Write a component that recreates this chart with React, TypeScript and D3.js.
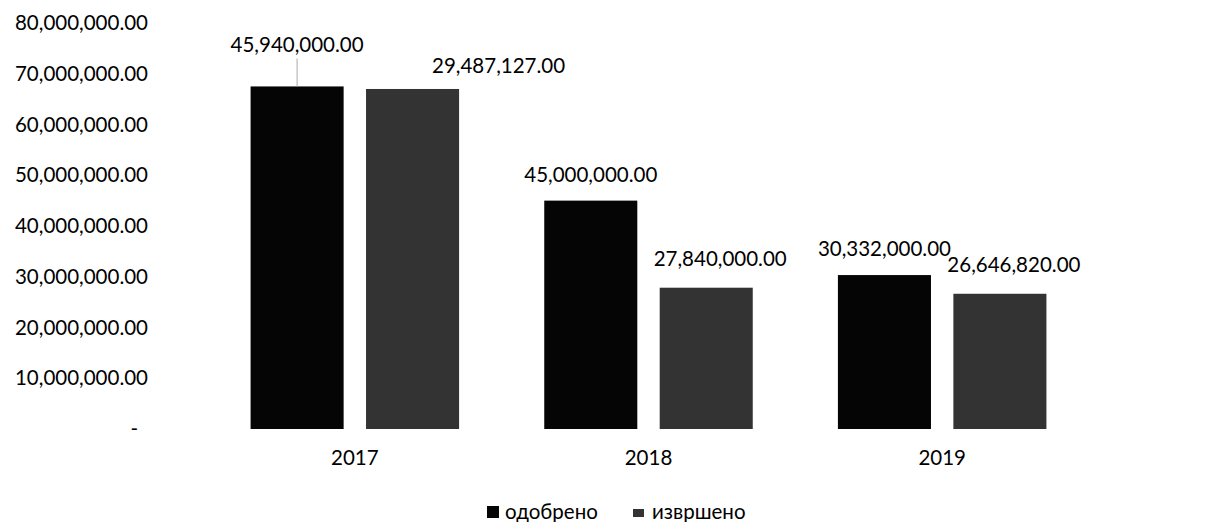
import { useRef, useEffect } from 'react';
import * as d3 from 'd3';

const years = ['2017', '2018', '2019'];
const seriesNames = ['одобрено', 'извршено'];
// bar heights as drawn in the picture
const approved = [67500000, 45000000, 30332000];
const executed = [67000000, 27840000, 26646820];
// data labels as printed on the chart
const approvedLabels = ['45,940,000.00', '45,000,000.00', '30,332,000.00'];
const executedLabels = ['29,487,127.00', '27,840,000.00', '26,646,820.00'];
const yTicks = [0, 10000000, 20000000, 30000000, 40000000, 50000000, 60000000, 70000000, 80000000];

const WIDTH = 1211;
const HEIGHT = 522;
const FONT = 'Lato, "Open Sans", sans-serif';
const FONT_SIZE = '20.5px';
const COLORS = ['#050505', '#333333'];
// hand-moved data labels in 2017 (dx, dy from default spot)
const LABEL_NUDGE: Record<string, [number, number]> = {
  '0-0': [0, -16],
  '0-1': [86, 3],
};

export default function App() {
  const svgRef = useRef<SVGSVGElement>(null);

  useEffect(() => {
    document.body.style.margin = '0';
    if (!svgRef.current) return;
    const svg = d3.select(svgRef.current);
    svg.selectAll('*').remove();

    const x = d3.scaleBand().domain(years).range([208, 1089]).paddingInner(0.29).paddingOuter(0.145);
    const xSub = d3.scaleBand().domain(seriesNames).range([0, x.bandwidth()]).paddingInner(0.194);
    const y = d3.scaleLinear().domain([0, 80000000]).range([429, 23]);

    // Y axis labels
    const yAxis = svg
      .append('g')
      .attr('transform', 'translate(148,0)')
      .call(
        d3
          .axisLeft(y)
          .tickValues(yTicks)
          .tickSize(0)
          .tickPadding(0)
          .tickFormat((d) => ((d as number) === 0 ? '-' : d3.format(',.2f')(d as number)))
      );
    yAxis.select('.domain').remove();
    yAxis
      .selectAll('text')
      .style('font-family', FONT)
      .style('font-size', FONT_SIZE)
      .style('fill', '#000')
      .attr('dx', (d) => ((d as number) === 0 ? -10 : 0));

    const rows = years.map((yr, i) => ({
      year: yr,
      values: [approved[i], executed[i]],
      labels: [approvedLabels[i], executedLabels[i]],
    }));

    const groups = svg
      .selectAll('.group')
      .data(rows)
      .enter()
      .append('g')
      .attr('class', 'group')
      .attr('transform', (d) => `translate(${x(d.year)},0)`);

    groups
      .selectAll('rect')
      .data((d) => d.values.map((v, j) => ({ v, j })))
      .enter()
      .append('rect')
      .attr('x', (d) => xSub(seriesNames[d.j])!)
      .attr('y', (d) => y(d.v))
      .attr('width', xSub.bandwidth())
      .attr('height', (d) => y(0) - y(d.v))
      .attr('fill', (d) => COLORS[d.j]);

    // data labels
    rows.forEach((row, i) => {
      row.labels.forEach((lab, j) => {
        const cx = x(row.year)! + xSub(seriesNames[j])! + xSub.bandwidth() / 2;
        const top = y(row.values[j]);
        const [dx, dy] = LABEL_NUDGE[`${i}-${j}`] || [j === 1 ? 14 : 0, j === 1 ? -3 : 0];
        const ly = top - 26 + dy;
        svg
          .append('text')
          .attr('x', cx + dx)
          .attr('y', ly)
          .attr('dy', '0.35em')
          .attr('text-anchor', 'middle')
          .style('font-family', FONT)
          .style('font-size', FONT_SIZE)
          .style('fill', '#000')
          .text(lab);
        if (dy < -10) {
          svg
            .append('line')
            .attr('x1', cx + dx)
            .attr('x2', cx + dx)
            .attr('y1', ly + 14)
            .attr('y2', top)
            .attr('stroke', '#aaa')
            .attr('stroke-width', 1);
        }
      });
    });

    // category labels
    svg
      .selectAll('.cat')
      .data(years)
      .enter()
      .append('text')
      .attr('class', 'cat')
      .attr('x', (d) => x(d)! + x.bandwidth() / 2)
      .attr('y', y(0) + 29)
      .attr('dy', '0.35em')
      .attr('text-anchor', 'middle')
      .style('font-family', FONT)
      .style('font-size', FONT_SIZE)
      .style('fill', '#000')
      .text((d) => d);

    // legend
    const legend = svg.append('g').attr('transform', 'translate(487,512)');
    const legendX = [0, 146];
    seriesNames.forEach((name, j) => {
      const item = legend.append('g').attr('transform', `translate(${legendX[j]},0)`);
      item
        .append('rect')
        .attr('x', 0)
        .attr('y', j === 0 ? -6 : -3)
        .attr('width', j === 0 ? 12 : 11)
        .attr('height', j === 0 ? 12 : 8)
        .attr('fill', COLORS[j]);
      item
        .append('text')
        .attr('x', j === 0 ? 18 : 19)
        .attr('y', 0)
        .attr('dy', '0.35em')
        .style('font-family', FONT)
        .style('font-size', FONT_SIZE)
        .style('fill', '#000')
        .text(name);
    });
  }, []);

  return <svg ref={svgRef} width={WIDTH} height={HEIGHT} style={{ display: 'block', background: '#fff' }} />;
}
